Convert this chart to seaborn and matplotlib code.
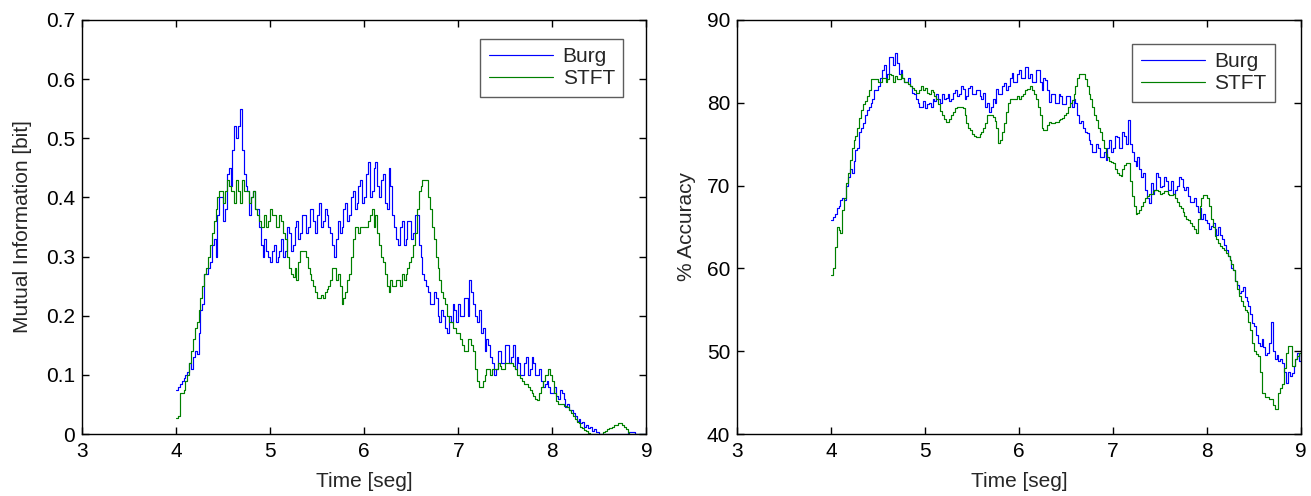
import numpy as np
import pandas as pd
import matplotlib
matplotlib.use("Agg")
import matplotlib.pyplot as plt
import seaborn as sns

# ---- data (sampled every 0.02 s from 4.00 to 9.00) ----
time = np.round(np.linspace(4.0, 9.0, 251), 2)

mi_burg = [
    0.075, 0.08, 0.085, 0.09, 0.095, 0.10, 0.105, 0.12, 0.11, 0.13,
    0.14, 0.135, 0.17, 0.21, 0.22, 0.27, 0.27, 0.28, 0.29, 0.32,
    0.33, 0.30, 0.37, 0.40, 0.40, 0.36, 0.38, 0.44, 0.45, 0.42,
    0.48, 0.52, 0.50, 0.52, 0.55, 0.48, 0.44, 0.42, 0.41, 0.37,
    0.40, 0.41, 0.38, 0.38, 0.35, 0.32, 0.30, 0.33, 0.31, 0.30,
    0.29, 0.31, 0.32, 0.29, 0.30, 0.31, 0.33, 0.30, 0.31, 0.35,
    0.34, 0.31, 0.32, 0.35, 0.36, 0.33, 0.34, 0.37, 0.37, 0.34,
    0.35, 0.38, 0.38, 0.36, 0.34, 0.37, 0.39, 0.35, 0.36, 0.38,
    0.37, 0.35, 0.34, 0.32, 0.30, 0.33, 0.36, 0.34, 0.35, 0.38,
    0.39, 0.36, 0.37, 0.40, 0.41, 0.38, 0.39, 0.42, 0.43, 0.39,
    0.40, 0.44, 0.46, 0.40, 0.41, 0.45, 0.46, 0.42, 0.40, 0.43,
    0.44, 0.39, 0.38, 0.45, 0.42, 0.37, 0.35, 0.33, 0.32, 0.35,
    0.36, 0.32, 0.33, 0.36, 0.36, 0.33, 0.34, 0.37, 0.37, 0.32,
    0.30, 0.27, 0.26, 0.25, 0.24, 0.22, 0.22, 0.24, 0.23, 0.20,
    0.19, 0.21, 0.20, 0.18, 0.17, 0.20, 0.19, 0.22, 0.21, 0.19,
    0.22, 0.20, 0.20, 0.23, 0.23, 0.20, 0.26, 0.24, 0.22, 0.20,
    0.19, 0.21, 0.17, 0.18, 0.14, 0.16, 0.15, 0.13, 0.12, 0.10,
    0.11, 0.14, 0.14, 0.12, 0.12, 0.15, 0.15, 0.12, 0.13, 0.15,
    0.11, 0.13, 0.12, 0.10, 0.10, 0.12, 0.13, 0.10, 0.11, 0.13,
    0.12, 0.10, 0.10, 0.11, 0.09, 0.08, 0.085, 0.09, 0.08, 0.07,
    0.07, 0.08, 0.065, 0.06, 0.075, 0.07, 0.06, 0.045, 0.05, 0.04,
    0.04, 0.035, 0.03, 0.022, 0.025, 0.018, 0.02, 0.012, 0.015, 0.01,
    0.012, 0.005, 0.008, 0.003, 0.003, 0.0, 0.0, 0.0, 0.0, 0.0,
    0.0, 0.0, 0.0, 0.0, 0.0, 0.0, 0.0, 0.0, 0.0, 0.0,
    0.003, 0.003, 0.003, 0.003, 0.0, 0.0, 0.0, 0.0, 0.0, 0.0,
    0.0]

mi_stft = [
    0.027, 0.03, 0.07, 0.07, 0.075, 0.09, 0.10, 0.12, 0.14, 0.16,
    0.18, 0.19, 0.21, 0.23, 0.25, 0.27, 0.28, 0.30, 0.32, 0.34,
    0.36, 0.38, 0.40, 0.41, 0.41, 0.39, 0.41, 0.43, 0.42, 0.41,
    0.41, 0.39, 0.43, 0.41, 0.39, 0.43, 0.41, 0.41, 0.41, 0.39,
    0.40, 0.41, 0.38, 0.37, 0.36, 0.35, 0.35, 0.37, 0.35, 0.36,
    0.38, 0.37, 0.37, 0.35, 0.35, 0.37, 0.36, 0.34, 0.33, 0.30,
    0.28, 0.27, 0.265, 0.28, 0.26, 0.29, 0.31, 0.31, 0.31, 0.30,
    0.28, 0.27, 0.26, 0.25, 0.24, 0.23, 0.23, 0.235, 0.23, 0.24,
    0.245, 0.25, 0.26, 0.28, 0.28, 0.26, 0.27, 0.25, 0.22, 0.23,
    0.24, 0.26, 0.27, 0.30, 0.33, 0.35, 0.35, 0.34, 0.35, 0.35,
    0.35, 0.35, 0.36, 0.37, 0.38, 0.35, 0.37, 0.34, 0.32, 0.30,
    0.29, 0.27, 0.25, 0.24, 0.26, 0.25, 0.25, 0.26, 0.26, 0.25,
    0.27, 0.26, 0.27, 0.28, 0.29, 0.30, 0.32, 0.34, 0.38, 0.41,
    0.42, 0.43, 0.43, 0.43, 0.40, 0.38, 0.35, 0.33, 0.30, 0.28,
    0.26, 0.24, 0.23, 0.22, 0.20, 0.19, 0.19, 0.18, 0.18, 0.17,
    0.17, 0.16, 0.15, 0.14, 0.14, 0.16, 0.16, 0.15, 0.14, 0.11,
    0.09, 0.08, 0.08, 0.09, 0.10, 0.11, 0.11, 0.10, 0.11, 0.11,
    0.11, 0.12, 0.115, 0.11, 0.11, 0.12, 0.12, 0.12, 0.12, 0.115,
    0.11, 0.10, 0.10, 0.095, 0.09, 0.085, 0.085, 0.08, 0.075, 0.07,
    0.065, 0.06, 0.057, 0.07, 0.08, 0.09, 0.10, 0.10, 0.11, 0.10,
    0.09, 0.07, 0.055, 0.05, 0.05, 0.05, 0.048, 0.047, 0.045, 0.04,
    0.035, 0.03, 0.025, 0.02, 0.018, 0.012, 0.01, 0.007, 0.005, 0.002,
    0.0, 0.0, 0.0, 0.0, 0.0, 0.0, 0.0, 0.003, 0.005, 0.008,
    0.01, 0.01, 0.012, 0.015, 0.015, 0.018, 0.018, 0.015, 0.012, 0.008,
    0.003, 0.0, 0.0, 0.0, 0.0, 0.0, 0.0, 0.0, 0.0, 0.0,
    0.0]

acc_burg = [
    65.8, 66.2, 66.5, 67.3, 67.5, 68.2, 68.5, 68.3, 70.0, 71.0,
    72.0, 71.5, 73.0, 74.3, 74.5, 76.5, 77.0, 77.5, 78.5, 79.1,
    79.5, 80.0, 80.5, 81.5, 81.5, 82.0, 83.0, 84.0, 84.5, 83.0,
    83.5, 85.5, 85.5, 84.5, 86.0, 84.8, 83.5, 84.0, 83.0, 82.5,
    82.5, 83.0, 82.0, 81.2, 81.0, 80.5, 80.0, 79.5, 79.5, 80.2,
    79.3, 79.8, 80.0, 79.5, 80.5, 80.2, 81.0, 80.5, 80.0, 81.0,
    80.5, 80.6, 81.0, 80.2, 80.5, 81.2, 81.5, 80.8, 81.0, 82.0,
    81.6, 80.5, 80.8, 81.8, 82.0, 81.0, 81.0, 81.5, 81.5, 80.8,
    80.5, 81.2, 79.5, 80.0, 78.9, 79.5, 80.5, 80.0, 81.6, 81.0,
    81.0, 82.0, 82.4, 81.5, 82.0, 83.0, 83.6, 82.5, 82.5, 83.5,
    84.0, 83.0, 83.0, 84.3, 84.3, 83.0, 83.5, 82.5, 82.5, 84.0,
    84.0, 82.5, 81.5, 83.0, 82.7, 81.5, 80.1, 81.0, 81.0, 80.0,
    80.0, 81.0, 80.8, 79.8, 79.8, 80.8, 80.8, 80.0, 79.5, 80.5,
    80.0, 78.5, 77.5, 77.8, 77.0, 76.5, 76.3, 75.5, 75.0, 74.0,
    74.0, 75.0, 74.5, 73.5, 73.5, 74.0, 73.1, 74.5, 75.5, 74.0,
    74.5, 76.0, 75.9, 74.5, 74.5, 76.5, 76.0, 75.0, 77.9, 75.0,
    74.0, 73.0, 72.3, 73.5, 72.0, 71.0, 71.5, 69.5, 68.5, 67.9,
    70.3, 69.0, 69.5, 71.5, 71.0, 69.8, 70.0, 71.0, 70.5, 69.5,
    69.5, 70.5, 69.0, 69.5, 70.0, 71.0, 70.8, 69.8, 69.5, 69.8,
    68.7, 68.0, 68.0, 68.5, 67.5, 66.8, 67.3, 66.0, 66.5, 65.8,
    65.5, 64.8, 65.1, 65.5, 64.8, 64.0, 65.0, 64.0, 63.5, 62.8,
    62.2, 61.5, 61.0, 60.0, 59.8, 58.5, 58.0, 57.0, 57.3, 57.8,
    56.5, 56.0, 55.5, 54.5, 53.4, 53.0, 52.0, 51.0, 50.6, 51.5,
    50.5, 49.5, 49.8, 51.0, 53.5, 50.0, 49.0, 49.5, 48.8, 49.0,
    48.6, 47.5, 46.2, 47.5, 47.0, 47.4, 48.2, 49.0, 49.8, 48.8,
    49.5]

acc_stft = [
    59.2, 60.0, 62.6, 65.0, 64.6, 64.3, 67.0, 68.5, 70.3, 71.5,
    73.1, 74.5, 75.5, 76.0, 77.0, 78.2, 79.1, 79.8, 80.2, 80.8,
    81.5, 82.8, 82.8, 82.8, 82.8, 82.5, 82.5, 83.0, 83.0, 82.5,
    82.8, 83.5, 83.3, 82.5, 83.2, 82.8, 82.8, 83.5, 83.0, 82.5,
    82.5, 82.2, 82.0, 81.8, 81.5, 81.2, 81.2, 81.5, 82.0, 81.5,
    81.8, 81.2, 81.0, 81.5, 81.3, 80.8, 80.5, 79.8, 79.0, 78.5,
    78.0, 77.7, 77.7, 78.0, 78.5, 78.9, 79.3, 79.5, 79.5, 79.5,
    79.3, 78.5, 77.5, 77.0, 76.7, 76.2, 76.0, 75.9, 75.9, 76.2,
    76.5, 77.0, 77.5, 78.5, 78.5, 78.5, 78.3, 77.8, 77.0, 75.1,
    75.5, 76.5, 77.5, 78.9, 80.0, 80.5, 80.5, 80.5, 80.5, 80.8,
    80.5, 80.8, 81.0, 81.5, 81.6, 81.6, 82.0, 81.5, 81.0, 80.5,
    79.5, 78.5, 77.0, 76.7, 76.7, 77.3, 77.7, 77.5, 77.5, 77.7,
    77.7, 77.9, 78.0, 78.2, 78.5, 78.7, 79.5, 80.0, 80.3, 81.0,
    82.0, 83.0, 83.5, 83.5, 83.5, 82.8, 82.0, 81.0, 80.5, 79.5,
    78.5, 77.9, 77.0, 76.5, 75.5, 74.5, 73.8, 73.5, 73.0, 72.8,
    72.7, 72.0, 71.5, 71.3, 71.1, 72.0, 72.5, 72.7, 72.7, 70.5,
    68.7, 67.5, 66.5, 66.7, 67.0, 67.5, 68.0, 68.5, 68.7, 69.0,
    69.0, 69.3, 69.5, 69.5, 69.3, 69.0, 69.1, 69.3, 69.3, 69.0,
    68.8, 68.9, 69.0, 68.5, 68.0, 67.5, 67.3, 66.8, 66.3, 66.0,
    65.8, 65.5, 65.1, 64.8, 64.3, 66.0, 67.5, 68.5, 68.9, 68.9,
    68.5, 67.5, 66.0, 65.0, 63.9, 63.5, 63.0, 62.7, 62.5, 62.2,
    61.9, 61.5, 61.0, 60.5, 59.8, 58.5, 57.5, 56.6, 56.0, 55.5,
    55.0, 54.7, 53.5, 52.5, 51.0, 50.0, 49.6, 49.4, 47.5, 45.0,
    45.0, 44.5, 44.5, 44.2, 44.2, 43.5, 43.0, 43.0, 45.0, 45.5,
    46.0, 48.0, 49.8, 50.6, 50.6, 48.2, 48.2, 49.0, 49.4, 49.8,
    49.4]

methods = ["Burg", "STFT"]
colors = {"Burg": "#0000FF", "STFT": "#008000"}

n = len(time)
df_mi = pd.DataFrame({"t": np.concatenate([time, time]),
                      "v": mi_burg + mi_stft,
                      "m": ["Burg"] * n + ["STFT"] * n})
df_acc = pd.DataFrame({"t": np.concatenate([time, time]),
                       "v": acc_burg + acc_stft,
                       "m": ["Burg"] * n + ["STFT"] * n})

sns.set_theme(style="white")
plt.rcParams['font.family'] = ['Liberation Sans', 'DejaVu Sans']
FS = 15
plt.rcParams['font.size'] = FS

fig = plt.figure(figsize=(13.11, 4.96), dpi=100)
ax1 = fig.add_axes([0.0625, 0.125, 0.4305, 0.835])
ax2 = fig.add_axes([0.5622, 0.125, 0.4302, 0.835])


def style(ax, ylim, yticks, ylabel, legend_anchor, ylabelpad):
    ax.set_xlim(3, 9)
    ax.set_ylim(*ylim)
    ax.set_xticks([3, 4, 5, 6, 7, 8, 9])
    ax.set_yticks(yticks)
    ax.set_xlabel("Time [seg]", fontsize=FS, labelpad=8)
    ax.set_ylabel(ylabel, fontsize=FS, labelpad=ylabelpad)
    ax.tick_params(direction="in", length=5, width=1, top=True, right=True,
                   bottom=True, left=True, labelsize=FS, colors="black")
    ax.tick_params(axis="x", pad=6)
    ax.tick_params(axis="y", pad=5)
    for s in ax.spines.values():
        s.set_color("black")
        s.set_linewidth(1.0)
    leg = ax.legend(loc="upper right", bbox_to_anchor=legend_anchor,
                    fontsize=FS, frameon=True, fancybox=False,
                    handlelength=3.1, handletextpad=0.45, borderpad=0.4,
                    labelspacing=0.15, borderaxespad=0.0)
    leg.get_frame().set_edgecolor("#333333")
    leg.get_frame().set_linewidth(1.0)


sns.lineplot(data=df_mi, x="t", y="v", hue="m", hue_order=methods,
             palette=colors, estimator=None, drawstyle="steps-post",
             linewidth=0.85, ax=ax1)
style(ax1, (0, 0.7), [0, 0.1, 0.2, 0.3, 0.4, 0.5, 0.6, 0.7],
      "Mutual Information [bit]", (0.959, 0.954), 10)
ax1.set_yticklabels(["0", "0.1", "0.2", "0.3", "0.4", "0.5", "0.6", "0.7"])

sns.lineplot(data=df_acc, x="t", y="v", hue="m", hue_order=methods,
             palette=colors, estimator=None, drawstyle="steps-post",
             linewidth=0.85, ax=ax2)
style(ax2, (40, 90), [40, 50, 60, 70, 80, 90], "% Accuracy",
      (0.954, 0.942), 8)

fig.savefig("out.png", dpi=100, facecolor="white")
